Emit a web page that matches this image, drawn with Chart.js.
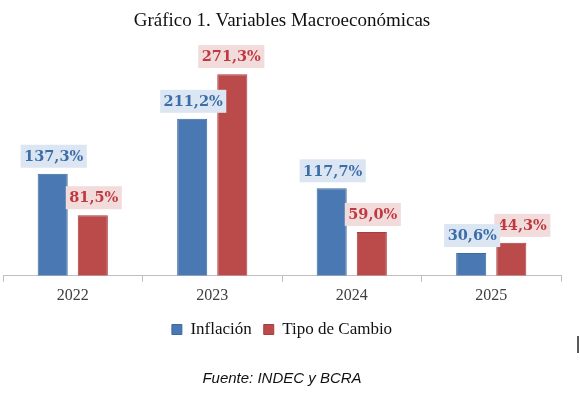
<!DOCTYPE html>
<html>
<head>
<meta charset="utf-8">
<script src="https://cdn.jsdelivr.net/npm/chart.js@4.4.1/dist/chart.umd.min.js"></script>
<style>
  html, body { margin: 0; padding: 0; background: #fff; }
  #wrap { position: relative; width: 580px; height: 397px; }
  #marca { position: absolute; left: 577px; top: 336px; width: 2px; height: 17px; background: #5a5a5a; }
</style>
</head>
<body>
<div id="wrap">
  <canvas id="grafico" width="580" height="397"></canvas>
  <div id="marca"></div>
</div>
<script>
// Datos del gráfico
const anios = ['2022', '2023', '2024', '2025'];
const inflacion = [137.3, 211.2, 117.7, 30.6];
const tipoCambio = [81.5, 271.3, 59.0, 44.3];

// Etiquetas con caja de color encima de cada barra
// (se dibuja primero la serie roja para que la azul quede encima)
const etiquetasBarras = {
    id: 'etiquetasBarras',
    afterDatasetsDraw(chart) {
        const ctx = chart.ctx;
        ctx.save();
        ctx.font = 'bold 14.5px "DejaVu Serif"';
        ctx.textAlign = 'center';
        ctx.textBaseline = 'middle';
        for (let i = chart.data.datasets.length - 1; i >= 0; i--) {
            const ds = chart.data.datasets[i];
            const meta = chart.getDatasetMeta(i);
            meta.data.forEach((bar, j) => {
                const texto = ds.data[j].toFixed(1).replace('.', ',') + '%';
                const w = ctx.measureText(texto).width + 7;
                const h = 23;
                const cx = bar.x + 1 + (ds.corrimiento ? ds.corrimiento[j] : 0);
                const abajo = bar.y - 6;
                ctx.fillStyle = ds.fondoEtiqueta;
                ctx.fillRect(cx - w / 2, abajo - h, w, h);
                ctx.fillStyle = ds.colorEtiqueta;
                ctx.fillText(texto, cx, abajo - h / 2 + 1);
            });
        }
        ctx.restore();
    }
};

const ctx = document.getElementById('grafico').getContext('2d');
new Chart(ctx, {
    type: 'bar',
    data: {
        labels: anios,
        datasets: [
            {
                label: 'Inflación',
                data: inflacion,
                backgroundColor: '#4a78b2',
                borderColor: '#3d6a9f',
                borderWidth: 1,
                fondoEtiqueta: '#dce6f2',
                colorEtiqueta: '#3b6ea8'
            },
            {
                label: 'Tipo de Cambio',
                data: tipoCambio,
                backgroundColor: '#bb4a4a',
                borderColor: '#a53e3e',
                borderWidth: 1,
                fondoEtiqueta: '#f2dcdb',
                colorEtiqueta: '#bf3a40',
                corrimiento: [0, -2, 0, 10] // etiqueta de 2025 movida a la derecha
            }
        ]
    },
    options: {
        responsive: false,
        animation: false,
        categoryPercentage: 0.575,
        barPercentage: 0.75,
        layout: { padding: { left: 3, right: 19, top: 0, bottom: 9 } },
        scales: {
            x: {
                grid: {
                    drawOnChartArea: false,
                    drawTicks: true,
                    tickLength: 6,
                    color: '#bfbfbf'
                },
                border: { color: '#bfbfbf', width: 1 },
                ticks: {
                    color: '#404040',
                    padding: 4,
                    font: { family: '"Liberation Serif"', size: 16 }
                }
            },
            y: {
                display: false,
                min: 0,
                max: 300
            }
        },
        plugins: {
            title: {
                display: true,
                text: 'Gráfico 1. Variables Macroeconómicas',
                color: '#111111',
                font: { family: '"Liberation Serif"', size: 19, weight: 'normal' },
                padding: { top: 10, bottom: 20 }
            },
            legend: {
                position: 'bottom',
                labels: {
                    boxWidth: 10,
                    boxHeight: 10,
                    padding: 12,
                    color: '#111111',
                    font: { family: '"Liberation Serif"', size: 17 }
                }
            },
            subtitle: {
                display: true,
                position: 'bottom',
                text: 'Fuente: INDEC y BCRA',
                color: '#111111',
                font: { family: '"Liberation Sans"', size: 15, style: 'italic' },
                padding: { top: 22, bottom: 0 }
            },
            tooltip: { enabled: false }
        }
    },
    plugins: [etiquetasBarras]
});
</script>
</body>
</html>
